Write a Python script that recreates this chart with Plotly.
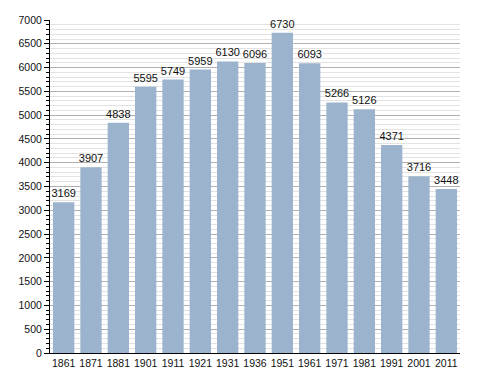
import plotly.graph_objects as go

years = ["1861", "1871", "1881", "1901", "1911", "1921", "1931", "1936", "1951", "1961", "1971", "1981", "1991", "2001", "2011"]
population = [3169, 3907, 4838, 5595, 5749, 5959, 6130, 6096, 6730, 6093, 5266, 5126, 4371, 3716, 3448]
y_ticks = list(range(0, 7001, 500))

fig = go.Figure(go.Bar(
    x=years, y=population,
    text=[str(v) for v in population], textposition="outside",
    textangle=0, constraintext="none",
    textfont=dict(family="Liberation Sans, Arial", size=11, color="#111"),
    marker=dict(color="#9CB3CD", line=dict(width=0)),
    cliponaxis=False,
))

# page body has an ~8px margin, so the figure is offset; margins compensate
fig.update_layout(
    width=480, height=365,
    margin=dict(l=42, r=28, t=12, b=20),
    paper_bgcolor="white", plot_bgcolor="white",
    bargap=0.22, showlegend=False,
    font=dict(family="Liberation Sans, Arial", size=10.5, color="#111"),
)
fig.update_xaxes(
    type="category", showline=True, linecolor="black", linewidth=1,
    ticks="", showgrid=False, tickfont=dict(size=10.5), automargin=False,
)
fig.update_yaxes(
    range=[0, 7000], tickvals=y_ticks, showline=True, linecolor="black", linewidth=1,
    ticks="outside", ticklen=5, tickcolor="black",
    showgrid=True, gridcolor="#b0b0b0", gridwidth=1,
    minor=dict(dtick=100, showgrid=True, gridcolor="#e2e2e2", ticks="outside", ticklen=3, tickcolor="black"),
    zeroline=False, tickfont=dict(size=10.5), automargin=False,
)

fig.write_html("out.html")
